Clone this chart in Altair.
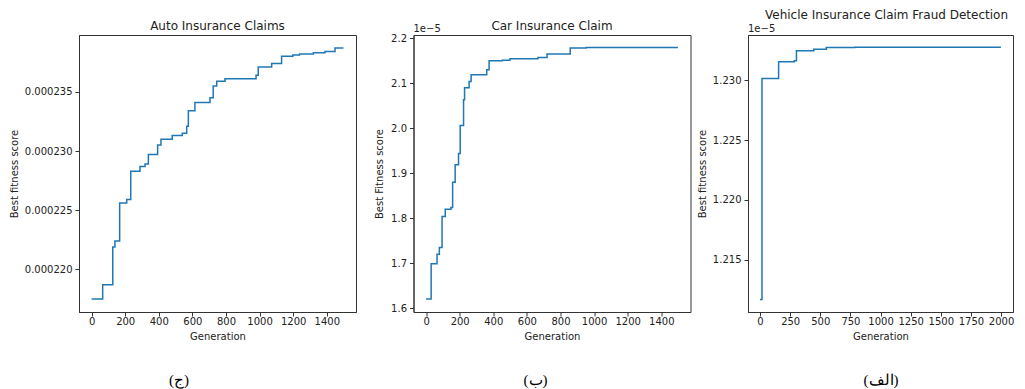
import altair as alt
import pandas as pd

# ---------------- data ----------------
# Panel (ج): Auto Insurance Claims
auto_gen = [0, 66, 126, 139, 167, 209, 233, 288, 318, 338, 393, 413, 480, 540, 566, 576,
            615, 705, 724, 745, 794, 979, 992, 1072, 1131, 1198, 1238, 1320, 1389, 1449, 1499]
auto_val = [0.0002175, 0.0002187, 0.0002219, 0.0002224, 0.0002256, 0.0002259, 0.0002283,
            0.0002287, 0.0002289, 0.0002297, 0.0002305, 0.0002310, 0.0002313, 0.0002315,
            0.0002321, 0.0002334, 0.0002341, 0.0002345, 0.0002355, 0.0002359, 0.0002361,
            0.0002364, 0.0002371, 0.0002374, 0.0002380, 0.0002381, 0.0002382, 0.0002383,
            0.0002384, 0.0002387, 0.0002387]

# Panel (ب): Car Insurance Claim (values shown in units of 1e-5)
car_gen = [0, 30, 65, 79, 95, 114, 148, 158, 173, 193, 203, 223, 229, 256, 268, 361, 375,
           453, 499, 666, 720, 858, 953, 1499]
car_val = [1.621, 1.699, 1.720, 1.735, 1.804, 1.820, 1.824, 1.880, 1.919, 1.944, 2.006,
           2.063, 2.090, 2.104, 2.119, 2.130, 2.150, 2.151, 2.154, 2.157, 2.165, 2.178,
           2.179, 2.179]

# Panel (الف): Vehicle Insurance Claim Fraud Detection (units of 1e-5)
veh_gen = [0, 16, 154, 284, 302, 446, 550, 785, 1999]
veh_val = [1.21169, 1.23013, 1.23153, 1.23161, 1.23245, 1.23259, 1.23272, 1.23274, 1.23274]

titles = ["Auto Insurance Claims", "Car Insurance Claim", "Vehicle Insurance Claim Fraud Detection"]
y_titles = ["Best fitness score", "Best Fitness score", "Best fitness score"]
captions = ["(ج)", "(ب)", "(الف)"]
offset_label = "1e\u22125"

x_ticks_a = [0, 200, 400, 600, 800, 1000, 1200, 1400]
x_ticks_c = [0, 250, 500, 750, 1000, 1250, 1500, 1750, 2000]
y_ticks_auto = [0.000220, 0.000225, 0.000230, 0.000235]
y_ticks_car = [1.6, 1.7, 1.8, 1.9, 2.0, 2.1, 2.2]
y_ticks_veh = [1.215, 1.220, 1.225, 1.230]

BLUE = "#1f77b4"
H = 277


def text_layer(s, x, y, **kw):
    return alt.Chart(pd.DataFrame({"t": [s]})).mark_text(**kw).encode(
        text="t:N", x=alt.value(x), y=alt.value(y))


def panel(gens, vals, title, ytitle, xdom, ydom, xticks, yticks, yfmt, extent, tpad,
          title_x, title_y, caption, cap_x, width, offset=None):
    df = pd.DataFrame({"Generation": gens, "score": vals})
    line = alt.Chart(df).mark_line(interpolate="step-after", color=BLUE, strokeWidth=1.5).encode(
        x=alt.X("Generation:Q",
                scale=alt.Scale(domain=xdom, nice=False, zero=False),
                axis=alt.Axis(values=xticks, format="d", title="Generation")),
        y=alt.Y("score:Q",
                scale=alt.Scale(domain=ydom, nice=False, zero=False),
                axis=alt.Axis(values=yticks, format=yfmt, title=ytitle,
                              minExtent=extent, maxExtent=extent, titlePadding=tpad)),
    )
    layers = [
        line,
        text_layer(title, title_x, title_y, fontSize=12, color="#222",
                   align="center", baseline="middle"),
        text_layer(caption, cap_x, H + 68, font="Liberation Serif", fontSize=15,
                   color="#000", align="center", baseline="middle"),
    ]
    if offset is not None:
        layers.append(text_layer(offset, 0, -6, fontSize=10, color="#222",
                                 align="left", baseline="middle"))
    return alt.layer(*layers).properties(width=width, height=H)


p1 = panel(auto_gen, auto_val, titles[0], y_titles[0], [-75, 1574], [0.0002164, 0.0002398],
           x_ticks_a, y_ticks_auto, ".6f", 52, 8, 138.5, -9.5, captions[0], 100, 277)
p2 = panel(car_gen, car_val, titles[1], y_titles[1], [-75, 1574], [1.592, 2.207],
           x_ticks_a, y_ticks_car, ".1f", 22, 7, 138.5, -9.5, captions[1], 122, 277, offset_label)
p3 = panel(veh_gen, veh_val, titles[2], y_titles[2], [-100, 2099], [1.21064, 1.23377],
           x_ticks_c, y_ticks_veh, ".3f", 35, 6, 138.5, -20.5, captions[2], 133, 265, offset_label)

chart = alt.hconcat(p1, p2, p3, spacing=57.5, bounds="flush").properties(
    padding={"left": 0, "top": 0, "right": 0, "bottom": 0}
).configure(font="DejaVu Sans").configure_view(
    stroke="#333", strokeWidth=1
).configure_axis(
    grid=False, domainColor="#333", tickColor="#333", tickSize=4, labelPadding=3,
    labelFontSize=10, titleFontSize=10, titleFontWeight="normal",
    labelColor="#222", titleColor="#222", labelFont="DejaVu Sans", titleFont="DejaVu Sans",
).configure_axisX(titlePadding=5, labelPadding=0)

chart.save("out.html", embed_options={"renderer": "svg", "actions": False})
